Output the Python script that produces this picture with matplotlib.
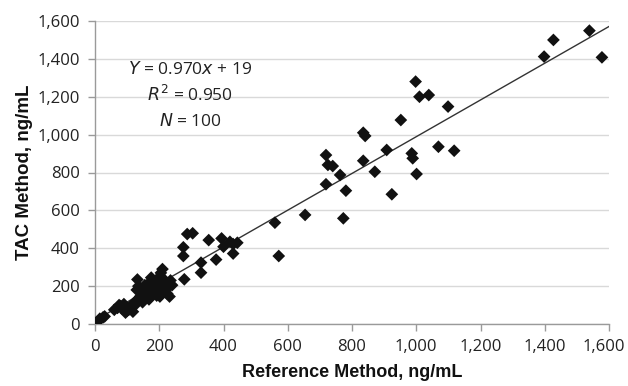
import matplotlib
matplotlib.use("Agg")
import matplotlib.pyplot as plt
import matplotlib.transforms as mtransforms
import numpy as np

# Reference method (x) and TAC method (y) values, ng/mL
ref_x = [1539, 1427, 1398, 1578, 998, 1010, 1039, 1099, 952, 835,
         841, 908, 1069, 1118, 719, 725, 740, 835, 986, 989,
         763, 871, 1001, 719, 781, 924, 654, 773, 560, 572,
         275, 275, 278, 287, 304, 330, 330, 354, 377, 394,
         400, 420, 430, 443, 430,
         5, 10, 15, 25, 30,
         70, 75, 80, 85, 90, 95, 100, 105, 110, 115,
         120, 125, 128, 130, 132, 135, 138, 140, 145, 148,
         150, 155, 158, 160, 165, 168, 170, 175, 178, 180,
         185, 190, 192, 195, 200, 202, 205, 208, 210, 212,
         215, 218, 220, 225, 228, 232, 235, 240, 60, 118]
tac_y = [1549, 1500, 1412, 1408, 1280, 1200, 1209, 1148, 1077, 1010,
         993, 919, 936, 915, 892, 840, 834, 862, 901, 875,
         787, 804, 792, 738, 704, 685, 576, 558, 535, 359,
         405, 359, 236, 475, 479, 324, 271, 443, 340, 452,
         408, 434, 422, 429, 372,
         8, 15, 28, 35, 40,
         85, 100, 95, 80, 105, 60, 70, 75, 85, 95,
         110, 100, 120, 180, 235, 200, 130, 145, 170, 115,
         155, 205, 140, 190, 175, 130, 220, 245, 160, 210,
         195, 185, 150, 240, 175, 145, 270, 200, 290, 240,
         225, 185, 210, 160, 195, 145, 230, 205, 75, 65]

slope = 0.970
intercept = 19
ticks = [0, 200, 400, 600, 800, 1000, 1200, 1400, 1600]
tick_labels = ["0", "200", "400", "600", "800", "1,000", "1,200", "1,400", "1,600"]

fig = plt.figure(figsize=(6.28, 3.86), dpi=100)
ax = fig.add_axes([95/628, 1 - 324/386, (609 - 95)/628, (324 - 21)/386])

ax.set_xlim(0, 1600)
ax.set_ylim(0, 1600)

ax.yaxis.grid(True, color="#d9d9d9", linewidth=1.0)
ax.set_axisbelow(True)

lx = np.array([0, 1600])
ax.plot(lx, slope * lx + intercept, color="#333333", linewidth=1.0, zorder=2)

ax.scatter(ref_x, tac_y, marker="D", s=42, color="#111111", edgecolors="none", zorder=3)

ax.set_xticks(ticks)
ax.set_xticklabels(tick_labels)
ax.set_yticks(ticks)
ax.set_yticklabels(tick_labels)

for s in ["top", "right"]:
    ax.spines[s].set_visible(False)
for s in ["left", "bottom"]:
    ax.spines[s].set_color("#9a9a9a")
    ax.spines[s].set_linewidth(1.0)

ax.tick_params(axis="both", which="major", direction="out", length=5,
               color="#9a9a9a", width=1.0, labelsize=12, labelcolor="#222222",
               pad=6)
for lab in ax.get_xticklabels() + ax.get_yticklabels():
    lab.set_family("Open Sans")

# keep the last x tick label inside the figure, as in the reference
last = ax.xaxis.get_major_ticks()[-1].label1
last.set_transform(last.get_transform() +
                   mtransforms.ScaledTranslation(-5/100, 0, fig.dpi_scale_trans))

ax.set_xlabel("Reference Method, ng/mL", fontsize=13, fontweight="bold",
              family="Liberation Sans", color="#111111", labelpad=6)
ax.set_ylabel("TAC Method, ng/mL", fontsize=13.5, fontweight="bold",
              family="Liberation Sans", color="#111111", labelpad=3)

txt_kw = dict(ha="center", va="center", fontsize=12.5, family="Open Sans",
              color="#222222", transform=fig.transFigure)
fig.text(190/628, 1 - 70/386, r"$\mathit{Y}$ = 0.970$\mathit{x}$ + 19", **txt_kw)
fig.text(190/628, 1 - 95/386, r"$\mathit{R}^{2}$ = 0.950", **txt_kw)
fig.text(190/628, 1 - 121/386, r"$\mathit{N}$ = 100", **txt_kw)

fig.savefig("out.png", dpi=100)
